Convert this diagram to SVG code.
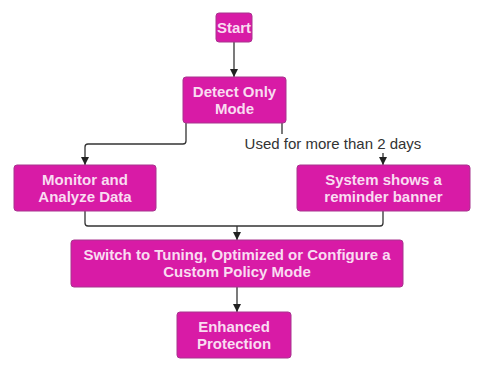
<svg xmlns="http://www.w3.org/2000/svg" width="486" height="369" viewBox="0 0 486 369">
<style>
.box{fill:#d81ba6;stroke:#a8358e;stroke-width:1}
.t{font-family:"Liberation Sans",Arial,sans-serif;font-weight:bold;font-size:15px;fill:#f9dcf1;text-anchor:middle}
.lbl{font-family:"Liberation Sans",Arial,sans-serif;font-size:15px;fill:#333;text-anchor:middle}
.c{fill:none;stroke:#333;stroke-width:1.3}
</style>
<defs>
<marker id="ah" viewBox="0 0 8 10" refX="8" refY="5" markerWidth="8" markerHeight="10" markerUnits="userSpaceOnUse" orient="auto">
<path d="M0,1 L8,5 L0,9 Z" fill="#222"/>
</marker>
</defs>
<rect width="486" height="369" fill="#fff"/>
<g id="connectors">
<path class="c" d="M234,42 V77" marker-end="url(#ah)"/>
<path class="c" d="M186,123 V141 Q186,144 183,144 H88 Q85,144 85,147 V165" marker-end="url(#ah)"/>
<path class="c" d="M282,123 V143 H383 V165" marker-end="url(#ah)"/>
<path class="c" d="M85,211 V223 Q85,226 88,226 H380 Q383,226 383,223 V211"/>
<path class="c" d="M237,226 V240" marker-end="url(#ah)"/>
<path class="c" d="M237,287 V312" marker-end="url(#ah)"/>
<rect x="242" y="134" width="182" height="19" fill="#fff"/>
<text class="lbl" x="333" y="148.5">Used for more than 2 days</text>
</g>
<g id="start">
<rect class="box" x="216" y="13" width="36" height="29" rx="3"/>
<text class="t" x="234" y="33">Start</text>
</g>
<g id="detect">
<rect class="box" x="183" y="77" width="103" height="46" rx="3"/>
<text class="t" x="234.5" y="96.5">Detect Only</text>
<text class="t" x="234.5" y="114">Mode</text>
</g>
<g id="monitor">
<rect class="box" x="14" y="165" width="142" height="46" rx="3"/>
<text class="t" x="85" y="184.5">Monitor and</text>
<text class="t" x="85" y="202">Analyze Data</text>
</g>
<g id="reminder">
<rect class="box" x="297" y="165" width="173" height="46" rx="3"/>
<text class="t" x="383.5" y="184.5">System shows a</text>
<text class="t" x="383.5" y="202">reminder banner</text>
</g>
<g id="switch">
<rect class="box" x="71" y="240" width="332" height="47" rx="3"/>
<text class="t" x="237" y="259.5">Switch to Tuning, Optimized or Configure a</text>
<text class="t" x="237" y="277">Custom Policy Mode</text>
</g>
<g id="enhanced">
<rect class="box" x="177" y="312" width="114" height="46" rx="3"/>
<text class="t" x="234" y="331.5">Enhanced</text>
<text class="t" x="234" y="349">Protection</text>
</g>
</svg>
